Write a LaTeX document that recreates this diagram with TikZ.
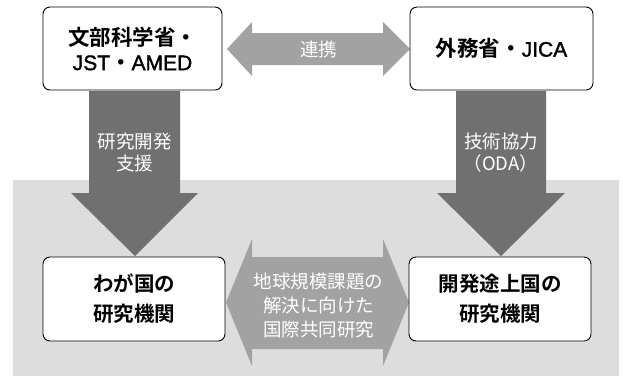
\documentclass[tikz,border=0pt]{standalone}
\usepackage{fontspec}
\newfontfamily\jp{Noto Sans CJK JP}
\newfontfamily\jpb{Noto Sans CJK JP Bold}
\newfontfamily\latf{Liberation Sans}[FakeBold=1.6]
\newcommand\lat[1]{{\latf\fontsize{21}{25}\selectfont #1}}
\definecolor{bggray}{HTML}{DCDDDC}
\definecolor{darkarrow}{HTML}{707070}
\definecolor{lightarrow}{HTML}{A2A2A2}
\tikzset{
  box/.style={draw=black, line width=0.9pt, fill=white, rounded corners=7pt,
    inner sep=0pt, align=center, font=\jpb\fontsize{21.5}{25}\selectfont},
  lowbox/.style={box, font=\jpb\fontsize{20.5}{30}\selectfont},
  darkblk/.style={fill=darkarrow, draw=none},
  lightblk/.style={fill=lightarrow, draw=none},
  arrowtext/.style={text=white, align=center, inner sep=0pt, font=\jp\fontsize{18.5}{22}\selectfont},
}
\begin{document}
\begin{tikzpicture}[x=1pt,y=-1pt]
\useasboundingbox (0,0) rectangle (623,376);
% background
\fill[bggray] (13,180) rectangle (619,376);
% vertical arrows
\fill[darkblk] (89,91) -- (180,91) -- (180,193) -- (198,193) -- (135,256) -- (71,193) -- (89,193) -- cycle;
\fill[darkblk] (456,91) -- (546,91) -- (546,193) -- (565,193) -- (501,256) -- (437,193) -- (456,193) -- cycle;
% top double arrow
\fill[lightblk] (227,49) -- (252,22) -- (252,33) -- (383,33) -- (383,22) -- (410,49) -- (383,76) -- (383,65) -- (252,65) -- (252,76) -- cycle;
% bottom double arrow
\fill[lightblk] (226,302.5) -- (252,239) -- (252,257) -- (383,257) -- (383,239) -- (409,302.5) -- (383,366) -- (383,349) -- (252,349) -- (252,366) -- cycle;
% boxes
\node[box, minimum width=179pt, minimum height=83pt] (mext) at (132.5,48.5) {文部科学省・\\\lat{JST}・\lat{AMED}};
\node[box, minimum width=183pt, minimum height=83pt] (mofa) at (501.5,48.5) {外務省・\lat{JICA}};
\node[lowbox, minimum width=182pt, minimum height=84pt] (jp) at (134,299) {わが国の\\研究機関};
\node[lowbox, minimum width=182pt, minimum height=84pt] (dev) at (500,299) {開発途上国の\\研究機関};
% arrow labels
\node[arrowtext] (renkei) at (318.5,49) {連携};
\node[arrowtext] (shien) at (134.5,152.5) {研究開発\\支援};
\node[arrowtext] (oda) at (501,152.5) {技術協力\\（ODA）};
\node[arrowtext, font=\jp\fontsize{18.5}{24}\selectfont] (kyodo) at (318.5,305) {地球規模課題の\\解決に向けた\\国際共同研究};
\end{tikzpicture}
\end{document}
